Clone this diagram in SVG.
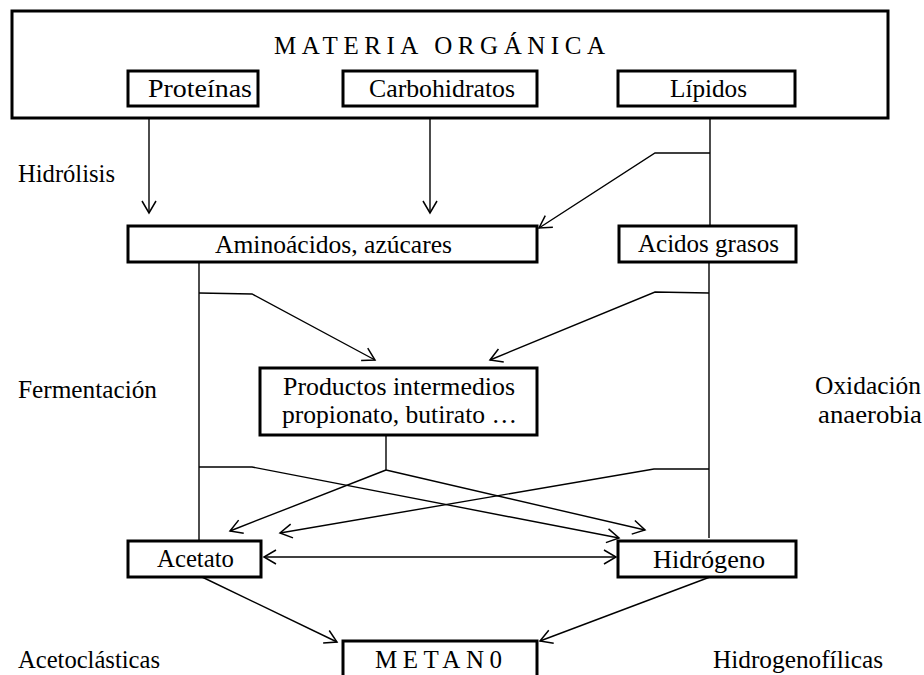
<svg xmlns="http://www.w3.org/2000/svg" width="924" height="675" viewBox="0 0 924 675">
<style>
.box{fill:#fff;stroke:#000;stroke-width:3}
.t{font-family:'Liberation Serif','Times New Roman',Times,serif;font-size:25px;fill:#000}
.c{fill:none;stroke:#000;stroke-width:1.4}
</style>
<defs>
<marker id="ah" markerUnits="userSpaceOnUse" markerWidth="16" markerHeight="18" refX="13" refY="8" orient="auto-start-reverse" viewBox="0 0 16 16">
<path d="M1,1 L13,8 L1,15" fill="none" stroke="#000" stroke-width="1.5"/>
</marker>
</defs>
<rect width="924" height="675" fill="#fff"/>
<g id="materia">
<rect class="box" x="12" y="11" width="876" height="107"/>
<text class="t" x="274" y="54" font-size="24" textLength="331" lengthAdjust="spacing">MATERIA ORGÁNICA</text>
</g>
<g id="proteinas">
<rect class="box" x="128" y="71" width="130" height="35"/>
<text class="t" x="148" y="97" textLength="104" lengthAdjust="spacingAndGlyphs">Proteínas</text>
</g>
<g id="carbohidratos">
<rect class="box" x="343" y="71" width="194" height="35"/>
<text class="t" x="369" y="97" textLength="146" lengthAdjust="spacingAndGlyphs">Carbohidratos</text>
</g>
<g id="lipidos">
<rect class="box" x="618" y="71" width="177" height="35"/>
<text class="t" x="670" y="97" textLength="77" lengthAdjust="spacingAndGlyphs">Lípidos</text>
</g>
<g id="aminoacidos">
<rect class="box" x="128" y="226" width="409" height="36"/>
<text class="t" x="215" y="253" textLength="237" lengthAdjust="spacingAndGlyphs">Aminoácidos, azúcares</text>
</g>
<g id="acidos">
<rect class="box" x="619" y="226" width="177" height="36"/>
<text class="t" x="638" y="252" textLength="141" lengthAdjust="spacingAndGlyphs">Acidos grasos</text>
</g>
<g id="productos">
<rect class="box" x="260" y="368" width="277" height="67"/>
<text class="t" x="283" y="395" textLength="232" lengthAdjust="spacingAndGlyphs">Productos intermedios</text>
<text class="t" x="282" y="423" textLength="235" lengthAdjust="spacingAndGlyphs">propionato, butirato …</text>
</g>
<g id="acetato">
<rect class="box" x="128" y="541" width="133" height="36"/>
<text class="t" x="157" y="567" textLength="77" lengthAdjust="spacingAndGlyphs">Acetato</text>
</g>
<g id="hidrogeno">
<rect class="box" x="618" y="541" width="178" height="36"/>
<text class="t" x="653" y="568" textLength="112" lengthAdjust="spacingAndGlyphs">Hidrógeno</text>
</g>
<g id="metano">
<rect class="box" x="343" y="641" width="194" height="44"/>
<text class="t" x="375" y="668" font-size="23" textLength="127" lengthAdjust="spacing">METAN0</text>
</g>
<g id="labels">
<text class="t" x="18" y="182" textLength="97" lengthAdjust="spacingAndGlyphs">Hidrólisis</text>
<text class="t" x="18" y="398" textLength="139" lengthAdjust="spacingAndGlyphs">Fermentación</text>
<text class="t" x="815" y="394" textLength="106" lengthAdjust="spacingAndGlyphs">Oxidación</text>
<text class="t" x="818" y="423" textLength="104" lengthAdjust="spacingAndGlyphs">anaerobia</text>
<text class="t" x="18" y="668" textLength="142" lengthAdjust="spacingAndGlyphs">Acetoclásticas</text>
<text class="t" x="713" y="668" textLength="170" lengthAdjust="spacingAndGlyphs">Hidrogenofílicas</text>
</g>
<g id="connectors">
<line class="c" x1="149" y1="118" x2="149" y2="213" marker-end="url(#ah)"/>
<line class="c" x1="430" y1="118" x2="430" y2="213" marker-end="url(#ah)"/>
<line class="c" x1="710" y1="118" x2="710" y2="225"/>
<polyline class="c" points="710,153 655,153 539,228" marker-end="url(#ah)"/>
<line class="c" x1="199" y1="262" x2="199" y2="541"/>
<polyline class="c" points="199,293 252,294 375,360" marker-end="url(#ah)"/>
<line class="c" x1="709" y1="262" x2="709" y2="538"/>
<polyline class="c" points="709,293 655,292 490,360" marker-end="url(#ah)"/>
<line class="c" x1="386" y1="435" x2="386" y2="470"/>
<polyline class="c" points="386,470 230,531" marker-end="url(#ah)"/>
<polyline class="c" points="386,470 645,530" marker-end="url(#ah)"/>
<polyline class="c" points="199,467 252,467 619,538" marker-end="url(#ah)"/>
<polyline class="c" points="709,469 654,469 280,533" marker-end="url(#ah)"/>
<line class="c" x1="264" y1="557" x2="616" y2="557" marker-start="url(#ah)" marker-end="url(#ah)"/>
<line class="c" x1="202" y1="577" x2="337" y2="642" marker-end="url(#ah)"/>
<line class="c" x1="710" y1="577" x2="540" y2="641" marker-end="url(#ah)"/>
</g>
</svg>
